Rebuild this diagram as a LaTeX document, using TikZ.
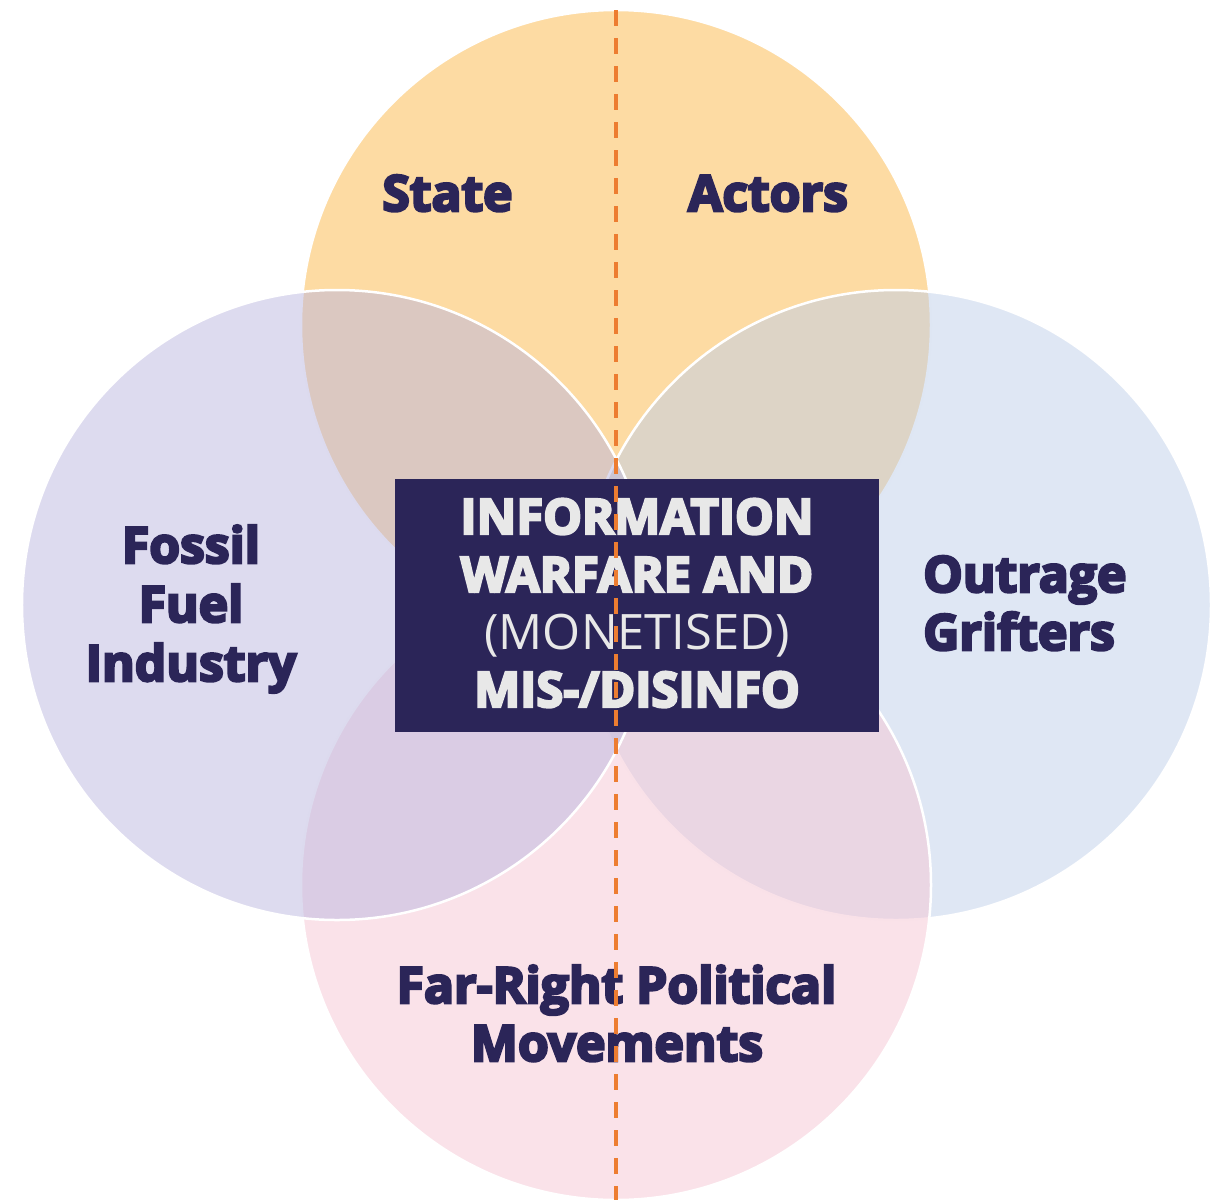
\documentclass[tikz,border=0pt]{standalone}
\usepackage{fontspec}
\setmainfont{Open Sans}
\definecolor{navy}{RGB}{43,37,88}
\definecolor{boxtext}{RGB}{232,232,232}
\definecolor{topc}{RGB}{253,219,163}
\definecolor{leftc}{RGB}{187,183,223}
\definecolor{rightc}{RGB}{191,207,233}
\definecolor{botc}{RGB}{245,197,211}
\definecolor{dashc}{RGB}{237,125,49}
\begin{document}
\begin{tikzpicture}[x=1bp,y=-1bp,
  venn/.style={draw=white, line width=2.5bp},
  half/.style={fill opacity=0.5},
  lbl/.style={text=navy, font=\fontsize{50}{59}\selectfont\bfseries\addfontfeature{FakeBold=5}, anchor=base, inner sep=0pt},
  ctr/.style={text=boxtext, font=\fontsize{49}{57}\selectfont\bfseries\addfontfeature{FakeBold=5}, anchor=base, inner sep=0pt},
  ctrlight/.style={text=boxtext, font=\fontsize{49}{57}\selectfont, anchor=base, inner sep=0pt},
  divider/.style={draw=dashc, line width=4.5bp, dash pattern=on 16bp off 12bp},
]
\useasboundingbox (0,0) rectangle (1211,1200);
% circles: top, right, bottom, left
\path[venn, fill=topc] (616,325) circle[radius=315bp];
\path[venn, half, fill=rightc] (896,605) circle[radius=315bp];
\path[venn, half, fill=botc] (616,885) circle[radius=315bp];
\path[venn, half, fill=leftc] (337,605) circle[radius=315bp];
% central box
\node[fill=navy, minimum width=484bp, minimum height=253bp, inner sep=0pt] (box) at (637,605.5) {};
\node[ctr] (c1) at (637,534) {INFORMATION};
\node[ctr] (c2) at (637,592) {WARFARE AND};
\node[ctrlight] (c3) at (637,649) {(MONETISED)};
\node[ctr] (c4) at (637,707) {MIS-/DISINFO};
% labels
\node[lbl] (state) at (447.5,211) {State};
\node[lbl] (actors) at (768,211) {Actors};
\node[lbl] (fossil1) at (191,563) {Fossil};
\node[lbl] (fossil2) at (191,622) {Fuel};
\node[lbl] (fossil3) at (191,681) {Industry};
\node[lbl, anchor=base west] (out1) at (923,592) {Outrage};
\node[lbl, anchor=base west] (out2) at (923,650) {Grifters};
\node[lbl] (far1) at (616.5,1003) {Far-Right Political};
\node[lbl] (far2) at (617,1061) {Movements};
% dashed divider
\coordinate (dtop) at (616,10);
\coordinate (dbot) at (616,1200);
\draw[divider] (dtop) -- (dbot);
\end{tikzpicture}
\end{document}
